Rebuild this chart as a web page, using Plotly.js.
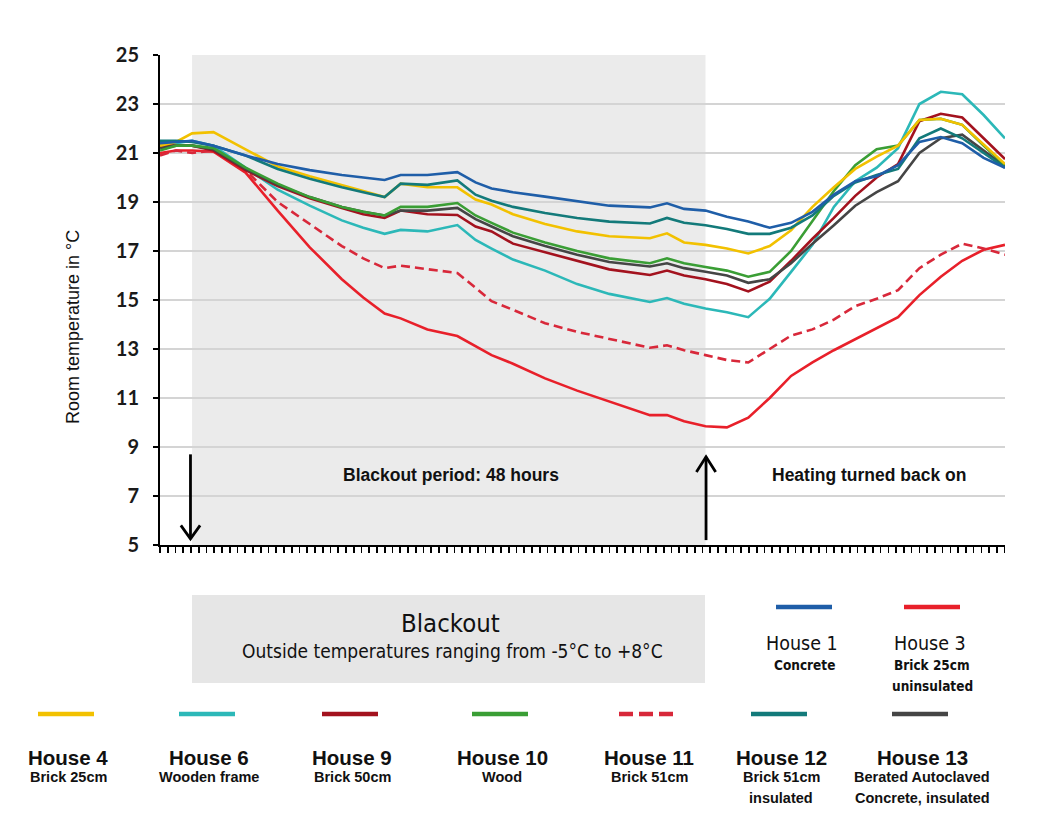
<!DOCTYPE html>
<html>
<head>
<meta charset="utf-8">
<script src="https://cdn.plot.ly/plotly-3.0.1.min.js"></script>
<style>
  html, body { margin: 0; padding: 0; background: #ffffff; }
  #chart { width: 1063px; height: 827px; }
</style>
</head>
<body>
<div id="chart"></div>
<script>
// ---------- DATA ----------
const hours = [0, 1.5, 3, 5, 8, 11, 14, 17, 19, 21, 22.5, 25, 27.8, 29.5, 31, 33, 36, 39, 42, 45.8, 47.4, 49, 51, 53, 55, 57, 59, 61, 63, 65, 67, 69, 71, 73, 75, 77, 79];

const house1  = [21.4, 21.45, 21.5, 21.3, 20.9, 20.55, 20.3, 20.1, 20.0, 19.9, 20.1, 20.1, 20.22, 19.8, 19.55, 19.4, 19.22, 19.05, 18.85, 18.78, 18.95, 18.72, 18.65, 18.4, 18.2, 17.95, 18.15, 18.6, 19.3, 19.85, 20.05, 20.5, 21.45, 21.65, 21.4, 20.8, 20.4];
const house3  = [21.0, 21.1, 21.1, 21.05, 20.2, 18.65, 17.15, 15.85, 15.1, 14.45, 14.25, 13.8, 13.53, 13.1, 12.75, 12.4, 11.8, 11.3, 10.85, 10.3, 10.3, 10.05, 9.85, 9.8, 10.2, 11.0, 11.9, 12.45, 12.95, 13.4, 13.85, 14.3, 15.2, 15.95, 16.6, 17.05, 17.25];
const house4  = [21.3, 21.45, 21.8, 21.85, 21.15, 20.45, 20.05, 19.7, 19.45, 19.2, 19.75, 19.6, 19.6, 19.1, 18.9, 18.5, 18.1, 17.8, 17.6, 17.52, 17.72, 17.35, 17.25, 17.1, 16.9, 17.2, 17.85, 18.8, 19.6, 20.35, 20.85, 21.3, 22.35, 22.4, 22.15, 21.35, 20.55];
const house6  = [21.3, 21.4, 21.5, 21.3, 20.4, 19.5, 18.85, 18.25, 17.95, 17.7, 17.86, 17.8, 18.06, 17.45, 17.1, 16.65, 16.2, 15.65, 15.25, 14.92, 15.08, 14.85, 14.65, 14.5, 14.3, 15.05, 16.15, 17.25, 18.8, 19.85, 20.4, 21.2, 23.0, 23.5, 23.4, 22.55, 21.6];
const house9  = [21.3, 21.3, 21.3, 21.1, 20.3, 19.65, 19.15, 18.75, 18.5, 18.35, 18.65, 18.5, 18.47, 18.0, 17.8, 17.3, 16.95, 16.6, 16.25, 16.02, 16.2, 16.0, 15.85, 15.65, 15.35, 15.75, 16.6, 17.5, 18.35, 19.25, 20.0, 20.55, 22.3, 22.6, 22.45, 21.6, 20.75];
const house10 = [21.1, 21.3, 21.3, 21.2, 20.4, 19.75, 19.2, 18.8, 18.6, 18.45, 18.8, 18.8, 18.96, 18.45, 18.15, 17.75, 17.35, 17.0, 16.7, 16.5, 16.7, 16.5, 16.35, 16.2, 15.95, 16.15, 17.0, 18.2, 19.45, 20.5, 21.15, 21.3, 22.35, 22.4, 22.15, 21.3, 20.5];
const house11 = [20.9, 21.1, 21.0, 21.1, 20.3, 19.0, 18.1, 17.2, 16.7, 16.3, 16.4, 16.25, 16.1, 15.5, 14.95, 14.6, 14.05, 13.7, 13.4, 13.05, 13.15, 12.95, 12.75, 12.55, 12.45, 13.0, 13.55, 13.8, 14.2, 14.75, 15.05, 15.4, 16.3, 16.85, 17.3, 17.1, 16.85];
const house12 = [21.5, 21.5, 21.45, 21.3, 20.9, 20.35, 19.95, 19.6, 19.4, 19.2, 19.75, 19.7, 19.88, 19.3, 19.05, 18.8, 18.55, 18.35, 18.2, 18.12, 18.35, 18.15, 18.05, 17.9, 17.7, 17.7, 17.95, 18.45, 19.25, 19.8, 20.1, 20.35, 21.6, 22.0, 21.6, 21.0, 20.4];
const house13 = [21.2, 21.3, 21.3, 21.15, 20.35, 19.7, 19.2, 18.8, 18.6, 18.45, 18.65, 18.65, 18.76, 18.3, 18.0, 17.6, 17.2, 16.85, 16.55, 16.37, 16.5, 16.3, 16.15, 16.0, 15.7, 15.85, 16.5, 17.3, 18.05, 18.85, 19.4, 19.85, 21.0, 21.6, 21.75, 21.1, 20.45];

const houseNames = ['House 1', 'House 3', 'House 4', 'House 6', 'House 9', 'House 10', 'House 11', 'House 12', 'House 13'];
const houseNotes = [['Concrete'], ['Brick 25cm', 'uninsulated'], ['Brick 25cm'], ['Wooden frame'], ['Brick 50cm'], ['Wood'], ['Brick 51cm'], ['Brick 51cm', 'insulated'], ['Berated Autoclaved', 'Concrete, insulated']];
const houseValues = [house1, house3, house4, house6, house9, house10, house11, house12, house13];

const blackoutStart = 3;   // hours
const blackoutEnd = 51;    // hours (48 h later)
const yTickVals = [5, 7, 9, 11, 13, 15, 17, 19, 21, 23, 25];

// ---------- STYLE ----------
const houseColors = ['#1f5ea8', '#e8202a', '#f2c100', '#2cb8b8', '#a3121e', '#3a9e35', '#d8283a', '#137a7a', '#454545'];
const houseDash = ['solid', 'solid', 'solid', 'solid', 'solid', 'solid', '9px,5px', 'solid', 'solid'];
const drawOrder = [1, 6, 3, 4, 8, 5, 2, 7, 0];

// legend placement in page pixels: [line centre x, line y, title y, note y]
const legendPlace = [
  [804, 607, 643, 665], [932, 607, 643, 665],
  [66, 714, 757, 777], [207, 714, 757, 777], [350, 714, 757, 777], [500, 714, 757, 777],
  [647, 714, 757, 777], [779, 714, 757, 777], [920, 714, 757, 777]
];

const PX = v => (v - 160) / 845;
const PY = v => (545 - v) / 490;

const condensed = "'Liberation Sans Narrow', 'DejaVu Sans Condensed', 'Roboto Condensed', 'Arial Narrow', 'Roboto', sans-serif";
const arial = "'Liberation Sans', Arial, sans-serif";

const traces = drawOrder.map(i => ({
  type: 'scatter', mode: 'lines', name: houseNames[i],
  x: hours, y: houseValues[i],
  line: { color: houseColors[i], width: 2.6, dash: houseDash[i], shape: 'linear' },
  hoverinfo: 'skip'
}));

const shapes = [
  { type: 'rect', xref: 'x', yref: 'paper', x0: blackoutStart, x1: blackoutEnd, y0: 0, y1: 1,
    fillcolor: '#ebebeb', line: { width: 0 }, layer: 'below' },
  // down arrow at blackout start
  { type: 'line', xref: 'x', yref: 'y', x0: 2.85, x1: 2.85, y0: 8.7, y1: 5.25, line: { color: '#000', width: 2.8 } },
  { type: 'path', xref: 'x', yref: 'y', path: 'M 1.95 5.8 L 2.85 5.25 L 3.75 5.8', line: { color: '#000', width: 2.8 } },
  // up arrow at heating on
  { type: 'line', xref: 'x', yref: 'y', x0: 51.05, x1: 51.05, y0: 5.2, y1: 8.6, line: { color: '#000', width: 2.8 } },
  { type: 'path', xref: 'x', yref: 'y', path: 'M 50.15 7.98 L 51.05 8.6 L 51.95 7.98', line: { color: '#000', width: 2.8 } },
  // blackout box below chart
  { type: 'rect', xref: 'paper', yref: 'paper', x0: PX(192), x1: PX(705), y0: PY(683), y1: PY(595),
    fillcolor: '#e6e6e6', line: { width: 0 } }
];

const annotations = [
  { xref: 'paper', yref: 'paper', x: PX(73), y: PY(327), text: 'Room temperature in °C', textangle: -90,
    showarrow: false, xanchor: 'center', yanchor: 'middle', font: { family: arial, size: 18, color: '#111' } },
  { xref: 'paper', yref: 'paper', x: PX(451), y: PY(475), text: 'Blackout period: 48 hours',
    showarrow: false, xanchor: 'center', yanchor: 'middle', font: { family: arial, size: 17.5, color: '#111', weight: 'bold' } },
  { xref: 'paper', yref: 'paper', x: PX(869), y: PY(475), text: 'Heating turned back on',
    showarrow: false, xanchor: 'center', yanchor: 'middle', font: { family: arial, size: 17.5, color: '#111', weight: 'bold' } },
  { xref: 'paper', yref: 'paper', x: PX(450), y: PY(623), text: 'Blackout',
    showarrow: false, xanchor: 'center', yanchor: 'middle', font: { family: condensed, size: 25.5, color: '#111' } },
  { xref: 'paper', yref: 'paper', x: PX(452), y: PY(651), text: 'Outside temperatures ranging from -5°C to +8°C',
    showarrow: false, xanchor: 'center', yanchor: 'middle', font: { family: condensed, size: 19, color: '#111' } }
];

houseNames.forEach((nm, i) => {
  const [cx, ly, ty, ny] = legendPlace[i];
  const top = i < 2;
  const half = 28;
  shapes.push({ type: 'line', xref: 'paper', yref: 'paper', x0: PX(cx - half), x1: PX(cx + half), y0: PY(ly), y1: PY(ly),
    line: { color: houseColors[i], width: 4.5, dash: i === 6 ? '14px,6px' : 'solid' } });
  annotations.push({ xref: 'paper', yref: 'paper', x: PX(top ? cx - 2 : cx + 2), y: PY(ty), text: nm, showarrow: false,
    xanchor: 'center', yanchor: 'middle',
    font: top ? { family: condensed, size: 19.5, color: '#111' } : { family: arial, size: 20.5, color: '#111', weight: 'bold' } });
  houseNotes[i].forEach((line, k) => {
    annotations.push({ xref: 'paper', yref: 'paper', x: PX(top ? cx : cx + 2), y: PY(ny + k * 21), text: line, showarrow: false,
      xanchor: 'center', yanchor: 'middle',
      font: top ? { family: condensed, size: 13.5, color: '#111', weight: 'bold' } : { family: arial, size: 14.5, color: '#111', weight: 'bold' } });
  });
});

const layout = {
  width: 1063, height: 827,
  margin: { l: 160, r: 58, t: 55, b: 282, pad: 0 },
  paper_bgcolor: '#ffffff', plot_bgcolor: '#ffffff',
  showlegend: false,
  xaxis: {
    range: [0, 79], showgrid: false, zeroline: false, showline: true, linecolor: '#000', linewidth: 2,
    ticks: 'outside', ticklen: 6, tickwidth: 1.6, tickcolor: '#000', tick0: 0, dtick: 0.7245,
    showticklabels: false, fixedrange: true
  },
  yaxis: {
    range: [5, 25], tickvals: yTickVals, ticktext: yTickVals.map(String),
    showgrid: true, gridcolor: '#d4d4d4', gridwidth: 1.3, zeroline: false,
    showline: true, linecolor: '#000', linewidth: 2, ticks: 'outside', ticklen: 5, tickwidth: 1.6, tickcolor: '#000',
    tickfont: { family: "Lato, 'Open Sans', sans-serif", size: 20, color: '#1a1a1a', weight: 'bold' },
    ticklabelstandoff: 10,
    fixedrange: true
  },
  shapes: shapes,
  annotations: annotations
};

Plotly.newPlot('chart', traces, layout, { staticPlot: true, displayModeBar: false });
</script>
</body>
</html>
